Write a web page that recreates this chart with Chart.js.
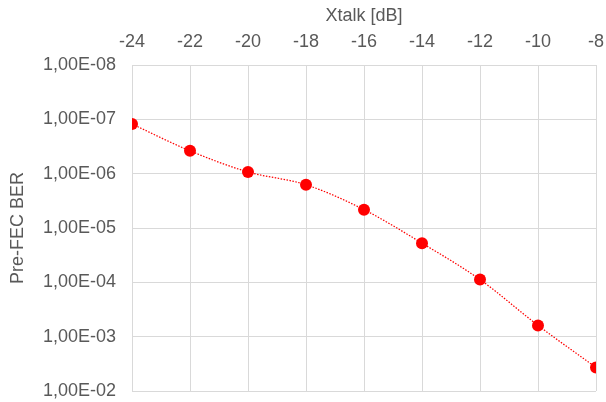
<!DOCTYPE html>
<html>
<head>
<meta charset="utf-8">
<script src="https://cdn.jsdelivr.net/npm/chart.js@4.4.1/dist/chart.umd.min.js"></script>
<style>
  html, body { margin: 0; padding: 0; background: #ffffff; }
  #wrap { width: 606px; height: 402px; }
</style>
</head>
<body>
<div id="wrap"><canvas id="graphique"></canvas></div>
<script>
// valeurs
const xtalk = [-24, -22, -20, -18, -16, -14, -12, -10, -8];
const ber = [1.22e-7, 3.8e-7, 9.3e-7, 1.6e-6, 4.6e-6, 1.9e-5, 8.9e-5, 6.2e-4, 3.7e-3];
const yTicks = [1e-8, 1e-7, 1e-6, 1e-5, 1e-4, 1e-3, 1e-2];

const grey = '#595959';
const gridColor = '#d9d9d9';
const police = "'Liberation Sans', Arial, sans-serif";

function formatSci(v) {
    const parts = v.toExponential(2).split('e');
    const mant = parts[0].replace('.', ',');
    let exp = parseInt(parts[1], 10);
    const sign = exp < 0 ? '-' : '+';
    exp = Math.abs(exp);
    return mant + 'E' + sign + (exp < 10 ? '0' + exp : '' + exp);
}

const points = xtalk.map((x, i) => ({ x: x, y: ber[i] }));

const ctx = document.getElementById('graphique').getContext('2d');
new Chart(ctx, {
    type: 'line',
    data: {
        datasets: [{
            data: points,
            borderColor: '#ff0000',
            borderWidth: 1.25,
            borderDash: [1.5, 1.5],
            backgroundColor: '#ff0000',
            pointBackgroundColor: '#ff0000',
            pointBorderColor: '#ff0000',
            pointRadius: 6,
            pointBorderWidth: 0,
            cubicInterpolationMode: 'monotone',
            fill: false
        }]
    },
    options: {
        responsive: true,
        maintainAspectRatio: false,
        animation: false,
        layout: { padding: { left: 0, right: 10, top: 0, bottom: 11 } },
        plugins: {
            legend: { display: false },
            tooltip: { enabled: false }
        },
        scales: {
            x: {
                type: 'linear',
                position: 'top',
                min: -24,
                max: -8,
                afterFit: s => {
                    s.height = 65;
                    s.paddingLeft = 0;
                    s.paddingRight = 0;
                },
                ticks: {
                    stepSize: 2,
                    color: grey,
                    padding: 12,
                    font: { family: police, size: 18 }
                },
                grid: { color: gridColor, lineWidth: 1, drawTicks: false },
                border: { color: gridColor, width: 1 },
                title: {
                    display: true,
                    text: 'Xtalk [dB]',
                    color: grey,
                    padding: { top: 5, bottom: 0 },
                    font: { family: police, size: 18 }
                }
            },
            y: {
                type: 'logarithmic',
                reverse: true,
                min: 1e-8,
                max: 1e-2,
                afterFit: s => {
                    s.width = 132;
                    s.paddingTop = 0;
                    s.paddingBottom = 0;
                },
                afterBuildTicks: s => { s.ticks = yTicks.map(v => ({ value: v })); },
                ticks: {
                    color: grey,
                    padding: 16,
                    font: { family: police, size: 18 },
                    callback: v => formatSci(v)
                },
                grid: { color: gridColor, lineWidth: 1, drawTicks: false },
                border: { color: gridColor, width: 1 },
                title: {
                    display: true,
                    text: 'Pre-FEC BER',
                    color: grey,
                    padding: { top: 7, bottom: 0 },
                    font: { family: police, size: 18 }
                }
            }
        }
    }
});
</script>
</body>
</html>
